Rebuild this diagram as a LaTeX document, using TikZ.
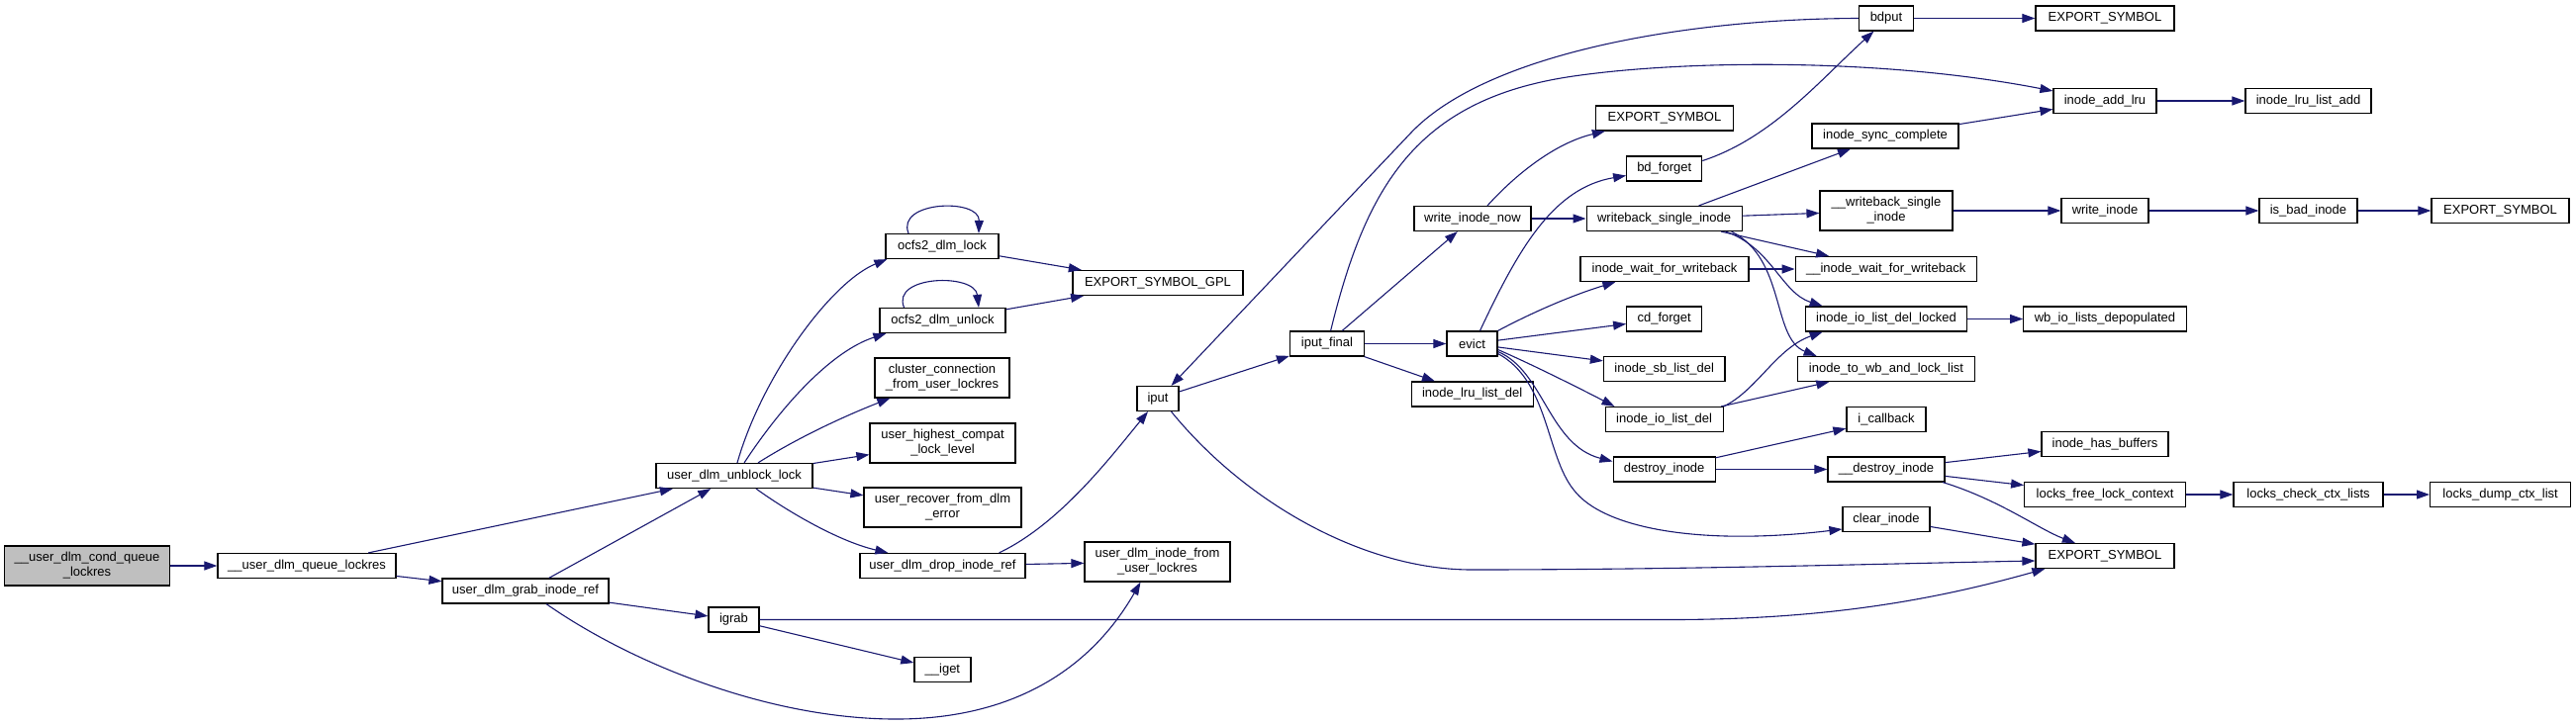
\documentclass[tikz,border=0pt]{standalone}
\usepackage{fontspec}
\setmainfont{Liberation Sans}
\usetikzlibrary{arrows.meta}
\definecolor{edgeblue}{HTML}{191970}
\definecolor{rootgray}{HTML}{BFBFBF}
\begin{document}
\begin{tikzpicture}[x=1pt,y=-1pt,
  box/.style={draw=black, fill=white, line width=1.2pt, inner sep=0pt, align=center,
              font=\fontsize{13}{15}\selectfont, minimum height=25pt},
  tall/.style={minimum height=40pt},
  call/.style={draw=edgeblue, line width=1.1pt, -{Triangle[length=13pt,width=9pt]}}]
\useasboundingbox (0,0) rectangle (2603,732);

% nodes
\node[box,tall,fill=rootgray,minimum width=167pt] (n1) at (88,572) {\_\_user\_dlm\_cond\_queue\\\_lockres};
\node[box,minimum width=180pt] (n2) at (310,572) {\_\_user\_dlm\_queue\_lockres};
\node[box,minimum width=168pt] (n3) at (531,597.5) {user\_dlm\_grab\_inode\_ref};
\node[box,minimum width=158pt] (n4) at (742,481) {user\_dlm\_unblock\_lock};
\node[box,minimum width=51pt] (n5) at (741.5,626.5) {igrab};
\node[box,minimum width=114pt] (n6) at (952,249) {ocfs2\_dlm\_lock};
\node[box,minimum width=127pt] (n7) at (952.5,324) {ocfs2\_dlm\_unlock};
\node[box,tall,minimum width=136pt] (n8) at (952,382) {cluster\_connection\\\_from\_user\_lockres};
\node[box,tall,minimum width=147pt] (n9) at (952.5,448) {user\_highest\_compat\\\_lock\_level};
\node[box,tall,minimum width=159pt] (n10) at (952.5,513) {user\_recover\_from\_dlm\\\_error};
\node[box,minimum width=167pt] (n11) at (952.5,572) {user\_dlm\_drop\_inode\_ref};
\node[box,minimum width=57pt] (n12) at (952.4,677) {\_\_iget};
\node[box,minimum width=172pt] (n13) at (1170,286) {EXPORT\_SYMBOL\_GPL};
\node[box,minimum width=42pt] (n14) at (1170,403) {iput};
\node[box,tall,minimum width=147pt] (n15) at (1169.5,568) {user\_dlm\_inode\_from\\\_user\_lockres};
\node[box,minimum width=75pt] (n16) at (1341,347.5) {iput\_final};
\node[box,minimum width=118pt] (n17) at (1488,221) {write\_inode\_now};
\node[box,minimum width=51pt] (n18) at (1487.5,347.5) {evict};
\node[box,minimum width=123pt] (n19) at (1487.6,398.5) {inode\_lru\_list\_del};
\node[box,minimum width=139pt] (n20) at (1682,119.5) {EXPORT\_SYMBOL};
\node[box,minimum width=76pt] (n21) at (1681.7,170.5) {bd\_forget};
\node[box,minimum width=157pt] (n22) at (1681.6,221) {writeback\_single\_inode};
\node[box,minimum width=170pt] (n23) at (1682,272) {inode\_wait\_for\_writeback};
\node[box,minimum width=76pt] (n24) at (1681.7,322.5) {cd\_forget};
\node[box,minimum width=122.5pt] (n25) at (1681.7,373) {inode\_sb\_list\_del};
\node[box,minimum width=119pt] (n26) at (1681.6,424) {inode\_io\_list\_del};
\node[box,minimum width=103pt] (n27) at (1681.6,474.5) {destroy\_inode};
\node[box,minimum width=55pt] (n28) at (1906,18.5) {bdput};
\node[box,minimum width=148pt] (n29) at (1905,137.5) {inode\_sync\_complete};
\node[box,tall,minimum width=134pt] (n30) at (1906,213) {\_\_writeback\_single\\\_inode};
\node[box,minimum width=183pt] (n31) at (1905.7,272) {\_\_inode\_wait\_for\_writeback};
\node[box,minimum width=162.5pt] (n32) at (1906,322.5) {inode\_io\_list\_del\_locked};
\node[box,minimum width=178.5pt] (n33) at (1906,373) {inode\_to\_wb\_and\_lock\_list};
\node[box,minimum width=80pt] (n34) at (1906,424) {i\_callback};
\node[box,minimum width=118pt] (n35) at (1906,474.5) {\_\_destroy\_inode};
\node[box,minimum width=88pt] (n36) at (1906,525) {clear\_inode};
\node[box,minimum width=140pt] (n37) at (2127,18.5) {EXPORT\_SYMBOL};
\node[box,minimum width=104pt] (n38) at (2127,102) {inode\_add\_lru};
\node[box,minimum width=88pt] (n39) at (2127,213) {write\_inode};
\node[box,minimum width=164.5pt] (n40) at (2127,322.5) {wb\_io\_lists\_depopulated};
\node[box,minimum width=128pt] (n41) at (2127,449) {inode\_has\_buffers};
\node[box,minimum width=162.6pt] (n42) at (2127,500) {locks\_free\_lock\_context};
\node[box,minimum width=140pt] (n43) at (2127,562) {EXPORT\_SYMBOL};
\node[box,minimum width=127pt] (n44) at (2332.5,102) {inode\_lru\_list\_add};
\node[box,minimum width=99pt] (n45) at (2332.5,213) {is\_bad\_inode};
\node[box,minimum width=151pt] (n46) at (2332.5,500) {locks\_check\_ctx\_lists};
\node[box,minimum width=139pt] (n47) at (2526.5,213) {EXPORT\_SYMBOL};
\node[box,minimum width=142pt] (n48) at (2526.6,500) {locks\_dump\_ctx\_list};

% edges
\draw[call] (n1) -- (n2);
\draw[call] (n2) -- (n4);
\draw[call] (n2) -- (n3);
\draw[call] (n3) -- (n4);
\draw[call] (n3) -- (n5);
\draw[call] ([xshift=21pt]n3.south) .. controls (640,672) and (780,728) .. (909,727)
            .. controls (1020,726) and (1100,680) .. ([xshift=-17pt]n15.south);
\draw[call] ([xshift=3pt]n4.north) .. controls (770,380) and (840,285) .. ([xshift=2pt]n6.south west);
\draw[call] ([xshift=10pt]n4.north) .. controls (790,410) and (840,355) .. ([xshift=7pt]n7.south west);
\draw[call] ([xshift=24pt]n4.north) .. controls (810,440) and (860,418) .. ([xshift=16pt]n8.south west);
\draw[call] (n4) -- (n9);
\draw[call] (n4) -- (n10);
\draw[call] ([xshift=22pt]n4.south) .. controls (800,520) and (850,548) .. ([xshift=29pt]n11.north west);
\draw[call] ([xshift=-34pt]n6.north) .. controls (905,203) and (990,200) .. ([xshift=37pt]n6.north);
\draw[call] (n6) -- (n13);
\draw[call] ([xshift=-39pt]n7.north) .. controls (900,278) and (985,276) .. ([xshift=36.5pt]n7.north);
\draw[call] (n7) -- (n13);
\draw[call] ([xshift=-27pt]n11.north east) .. controls (1070,530) and (1120,465) .. ([xshift=-10pt]n14.south);
\draw[call] (n11) -- (n15);
\draw[call] (n5) -- (n12);
\draw[call] (n5.east) -- (1688,626.5) .. controls (1850,626.5) and (1960,605) .. ([xshift=10pt]n43.south west);
\draw[call] (n14) -- (n16);
\draw[call] ([xshift=13.5pt]n14.south) .. controls (1260,510) and (1380,576) .. (1487,576)
            .. controls (1700,576) and (1900,570) .. ([yshift=-5pt]n43.west);
\draw[call] (n28.west) .. controls (1700,19) and (1500,55) .. (1425,135) -- ([xshift=13.5pt]n14.north);
\draw[call] ([xshift=3.6pt]n16.north) .. controls (1380,190) and (1430,100) .. (1590,77)
            .. controls (1700,61) and (1900,58) .. ([yshift=10pt]n38.west);
\draw[call] (n16) -- (n17);
\draw[call] (n16) -- (n18);
\draw[call] (n16) -- (n19);
\draw[call] ([xshift=15pt]n17.north) .. controls (1530,178) and (1570,145) .. ([xshift=10pt]n20.south west);
\draw[call] (n17) -- (n22);
\draw[call] ([xshift=8pt]n18.north) .. controls (1535,250) and (1570,190) .. ([yshift=-7pt]n21.west);
\draw[call] (n18.north east) .. controls (1550,315) and (1590,298) .. ([xshift=36pt]n23.south west);
\draw[call] (n18) -- (n24);
\draw[call] (n18) -- (n25);
\draw[call] ([yshift=-6pt]n18.east) .. controls (1545,367) and (1595,392) .. ([xshift=10pt]n26.north west);
\draw[call] ([yshift=-8pt]n18.east) .. controls (1560,375) and (1565,450) .. ([yshift=8pt]n27.west);
\draw[call] ([yshift=-10pt]n18.east) .. controls (1565,385) and (1562,460) .. (1590,495)
            .. controls (1620,535) and (1720,552) .. ([yshift=-10pt]n36.west);
\draw[call] (n26.north east) .. controls (1775,395) and (1795,352) .. ([xshift=17.5pt]n32.south west);
\draw[call] (n26) -- (n33);
\draw[call] ([yshift=8pt]n21.east) .. controls (1790,140) and (1840,80) .. ([xshift=15.5pt]n28.south west);
\draw[call] (n22) -- (n29);
\draw[call] (n22) -- (n30);
\draw[call] (n22) -- (n31);
\draw[call] ([xshift=62pt]n22.south) .. controls (1790,250) and (1800,296) .. ([xshift=17.5pt]n32.north west);
\draw[call] ([xshift=68pt]n22.south) .. controls (1805,262) and (1790,342) .. ([xshift=19.5pt]n33.north west);
\draw[call] (n23) -- (n31);
\draw[call] (n29) -- (n38);
\draw[call] (n30) -- (n39);
\draw[call] (n32) -- (n40);
\draw[call] (n27) -- (n34);
\draw[call] (n27) -- (n35);
\draw[call] (n35) -- (n41);
\draw[call] (n35) -- (n42);
\draw[call] ([xshift=-2.5pt]n35.south east) .. controls (2020,505) and (2060,535) .. ([xshift=40.5pt]n43.north west);
\draw[call] (n36) -- (n43);
\draw[call] (n28) -- (n37);
\draw[call] (n38) -- (n44);
\draw[call] (n39) -- (n45);
\draw[call] (n45) -- (n47);
\draw[call] (n42) -- (n46);
\draw[call] (n46) -- (n48);
\end{tikzpicture}
\end{document}
